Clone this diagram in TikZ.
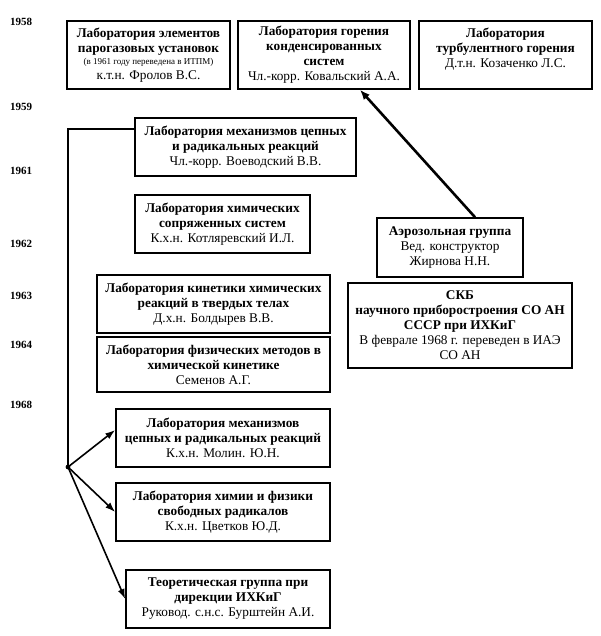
\documentclass[tikz,border=0pt]{standalone}
\usepackage{fontspec}
\setmainfont{Liberation Serif}
\usetikzlibrary{arrows.meta}
\begin{document}
\begin{tikzpicture}[x=1pt,y=1pt,
  box/.style={draw, line width=1.6pt, align=center, inner sep=1pt,
    font=\fontsize{13.3}{15}\selectfont},
  yr/.style={font=\bfseries\fontsize{11}{12}\selectfont},
  conn/.style={line width=1.6pt},
  arr/.style={line width=1.6pt, -{Latex[length=10pt,width=7pt]}},
  thickarr/.style={line width=2.6pt, -{Latex[length=10pt,width=8pt]}}]
\useasboundingbox (0,0) rectangle (600,-636);
% years
\node[yr] (y58) at (21,-22) {1958};
\node[yr] (y59) at (21,-107) {1959};
\node[yr] (y61) at (21,-171) {1961};
\node[yr] (y62) at (21,-244) {1962};
\node[yr] (y63) at (21,-296) {1963};
\node[yr] (y64) at (21,-345) {1964};
\node[yr] (y68) at (21,-405) {1968};
% top row
\node[box, minimum width=163, minimum height=68] (b1) at (148.5,-55)
 {\textbf{Лаборатория элементов}\\\textbf{парогазовых установок}\\[-3pt]
  {\fontsize{9}{10}\selectfont (в 1961 году переведена в ИТПМ)}\\к.т.н. Фролов В.С.};
\node[box, minimum width=172, minimum height=68] (b2) at (324,-55)
 {\textbf{Лаборатория горения}\\\textbf{конденсированных}\\\textbf{систем}\\Чл.-корр. Ковальский А.А.};
\node[box, minimum width=173, minimum height=68] (b3) at (505.5,-55)
 {\textbf{Лаборатория}\\\textbf{турбулентного горения}\\Д.т.н. Козаченко Л.С.\\ \mbox{}};
% left column
\node[box, minimum width=221, minimum height=58] (b4) at (245.5,-147)
 {\textbf{Лаборатория механизмов цепных}\\\textbf{и радикальных реакций}\\Чл.-корр. Воеводский В.В.};
\node[box, minimum width=175, minimum height=58] (b5) at (222.5,-224)
 {\textbf{Лаборатория химических}\\\textbf{сопряженных систем}\\К.х.н. Котляревский И.Л.};
\node[box, minimum width=233, minimum height=58] (b6) at (213.5,-304)
 {\textbf{Лаборатория кинетики химических}\\\textbf{реакций в твердых телах}\\Д.х.н. Болдырев В.В.};
\node[box, minimum width=233, minimum height=55] (b7) at (213.5,-364.5)
 {\textbf{Лаборатория физических методов в}\\\textbf{химической кинетике}\\Семенов А.Г.};
\node[box, minimum width=214, minimum height=58] (b8) at (223,-438)
 {\textbf{Лаборатория механизмов}\\\textbf{цепных и радикальных реакций}\\К.х.н. Молин. Ю.Н.};
\node[box, minimum width=214, minimum height=58] (b9) at (223,-512)
 {\textbf{Лаборатория химии и физики}\\\textbf{свободных радикалов}\\К.х.н. Цветков Ю.Д.};
\node[box, minimum width=204, minimum height=58] (b10) at (228,-599)
 {\textbf{Теоретическая группа при}\\\textbf{дирекции ИХКиГ}\\Руковод. с.н.с. Бурштейн А.И.};
% right column
\node[box, minimum width=146, minimum height=59] (aero) at (450,-247.5)
 {\textbf{Аэрозольная группа}\\Вед. конструктор\\Жирнова Н.Н.};
\node[box, minimum width=224, minimum height=85] (skb) at (460,-325.5)
 {\textbf{СКБ}\\\textbf{научного приборостроения СО АН}\\\textbf{СССР при ИХКиГ}\\В феврале 1968 г. переведен в ИАЭ\\СО АН};
% connectors
\coordinate (bend) at (68,-129);
\coordinate (hub) at (68,-467);
\draw[conn] (hub) -- (bend) -- (bend -| b4.west);
\fill (hub) circle (2.4pt);
\draw[arr] (hub) -- ([yshift=8pt]b8.west);
\draw[arr] (hub) -- (b9.west);
\draw[arr] (hub) -- (b10.west);
\draw[thickarr] ([xshift=25pt]aero.north) -- ([xshift=36pt]b2.south);
\end{tikzpicture}
\end{document}
